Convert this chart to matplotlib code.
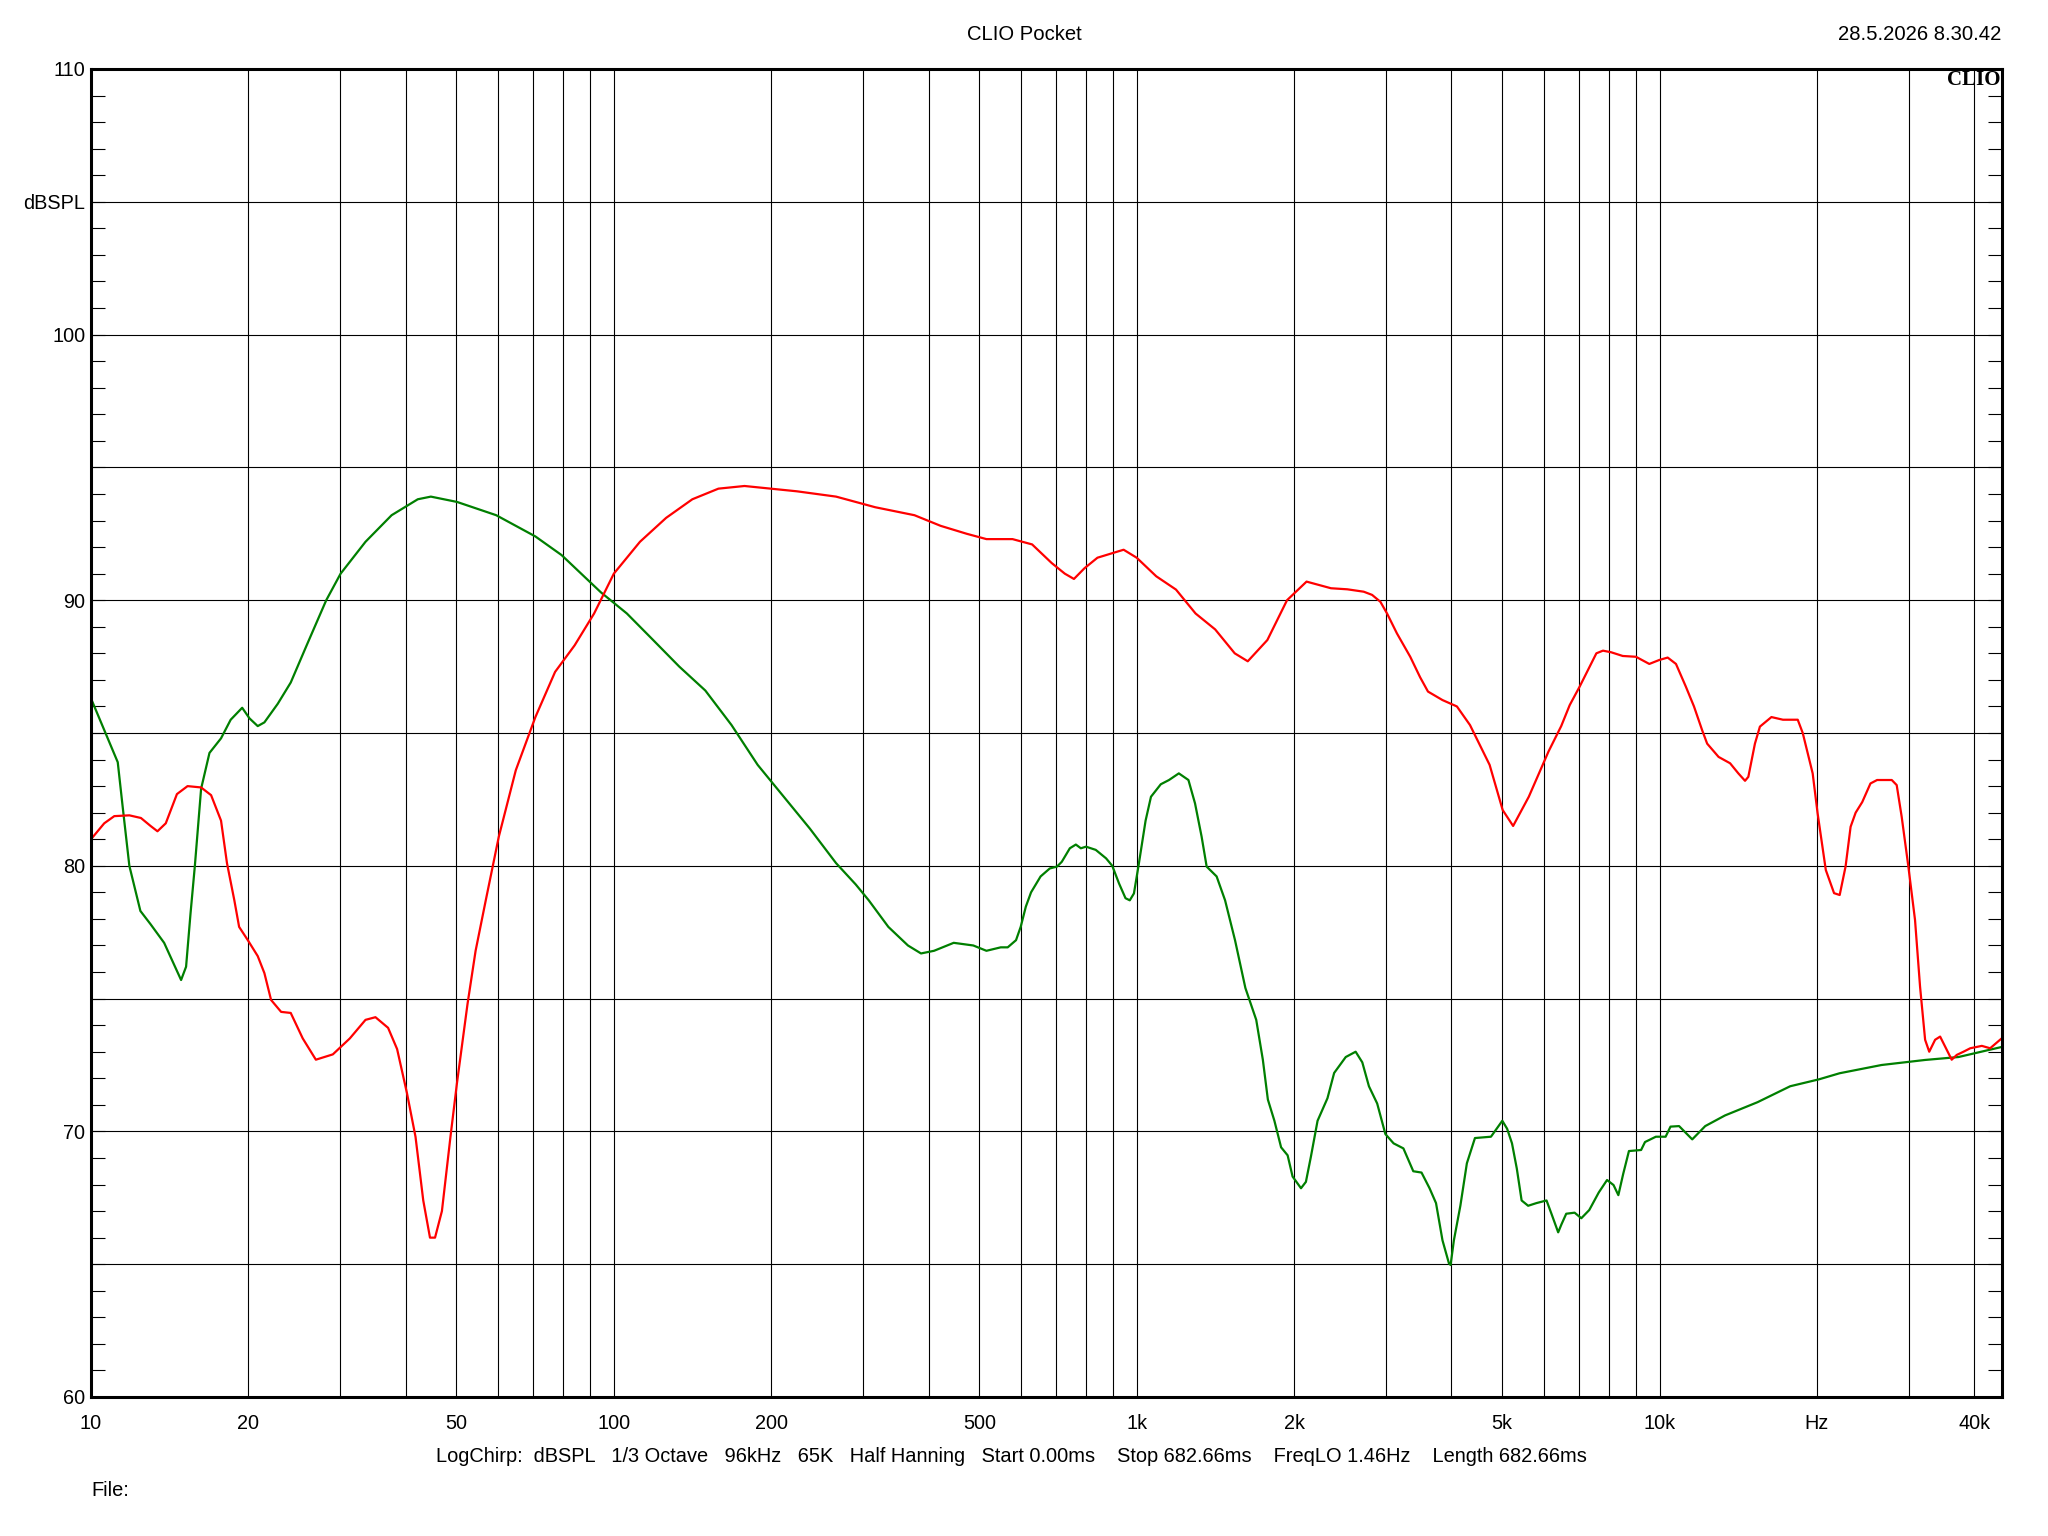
import numpy as np
import matplotlib
matplotlib.use('Agg')
import matplotlib.pyplot as plt
from matplotlib.ticker import FixedLocator, NullFormatter, NullLocator

plt.rcParams['font.family'] = ['Liberation Sans', 'DejaVu Sans']

# green curve
green_f = [10, 11.25, 11.5, 11.84, 12.43, 13.0, 13.8, 14.4, 14.87, 15.2,
           15.5, 15.8, 16.24, 16.85, 17.73, 18.5, 19.46, 20.1, 20.84, 21.46,
           22.76, 24.1, 25.85, 28.18, 30.02, 33.50, 37.58, 42.17, 44.67, 50.12,
           59.57, 70.79, 79.43, 86.60, 94.41, 105.9, 118.9, 133.4, 149.6, 167.9,
           188.4, 211.3, 237.1, 266.1, 290.1, 307.3, 335.0, 365.2, 386.8, 409.7,
           446.7, 487.0, 516.0, 549.5, 566.7, 587.8, 600, 613.7, 628, 655,
           682, 704, 719, 745, 765, 782, 800, 835, 874, 898,
           925, 952, 970, 988, 1010, 1040, 1065, 1112, 1153, 1204,
           1256, 1293, 1331, 1361, 1422, 1476, 1542, 1614, 1693, 1743,
           1782, 1834, 1889, 1944, 1987, 2062, 2107, 2154, 2218, 2317,
           2386, 2511, 2623, 2701, 2781, 2884, 2990, 3100, 3237, 3381,
           3506, 3632, 3737, 3845, 3956, 3985, 4043, 4160, 4281, 4436,
           4760, 5004, 5111, 5222, 5334, 5448, 5607, 5814, 6080, 6213,
           6400, 6493, 6631, 6880, 7086, 7339, 7652, 7937, 8167, 8342,
           8522, 8740, 9221, 9381, 9841, 10272, 10496, 10900, 11550, 12230,
           13340, 15400, 17780, 20180, 22110, 26590, 32210, 37300, 44930]
green_db = [86.3, 83.9, 82.2, 80.0, 78.3, 77.8, 77.1, 76.3, 75.7, 76.2,
            78.2, 80.0, 82.9, 84.25, 84.8, 85.5, 85.95, 85.55, 85.26, 85.4,
            86.1, 86.9, 88.3, 90.0, 91.0, 92.2, 93.2, 93.8, 93.9, 93.7,
            93.2, 92.4, 91.7, 91.0, 90.3, 89.5, 88.5, 87.5, 86.6, 85.3,
            83.8, 82.6, 81.4, 80.1, 79.3, 78.7, 77.7, 77.0, 76.7, 76.8,
            77.1, 77.0, 76.8, 76.93, 76.93, 77.2, 77.7, 78.46, 79.0, 79.6,
            79.9, 79.97, 80.15, 80.66, 80.8, 80.66, 80.72, 80.6, 80.28, 80.0,
            79.34, 78.78, 78.7, 78.96, 80.1, 81.7, 82.6, 83.07, 83.23, 83.48,
            83.23, 82.35, 81.1, 79.97, 79.6, 78.7, 77.2, 75.4, 74.2, 72.7,
            71.2, 70.4, 69.4, 69.1, 68.3, 67.86, 68.1, 69.05, 70.4, 71.25,
            72.2, 72.8, 73.0, 72.6, 71.7, 71.05, 69.9, 69.55, 69.36, 68.5,
            68.45, 67.86, 67.3, 65.9, 65.03, 64.97, 65.9, 67.2, 68.8, 69.75,
            69.8, 70.4, 70.1, 69.55, 68.6, 67.4, 67.2, 67.3, 67.4, 66.9,
            66.2, 66.5, 66.9, 66.94, 66.73, 67.04, 67.7, 68.17, 67.98, 67.6,
            68.4, 69.26, 69.3, 69.6, 69.8, 69.8, 70.18, 70.2, 69.7, 70.2,
            70.6, 71.1, 71.7, 71.96, 72.19, 72.5, 72.69, 72.8, 73.17]

# red curve
red_f = [10, 10.6, 11.08, 11.84, 12.46, 13.0, 13.4, 13.9, 14.6, 15.3,
         16.24, 16.97, 17.73, 18.2, 18.8, 19.2, 19.95, 20.84, 21.46, 22.1,
         23.1, 24.1, 25.41, 26.92, 29.01, 31.26, 33.5, 35.0, 37.0, 38.5,
         40.2, 41.75, 43.2, 44.5, 45.5, 46.9, 48.7, 50.1, 52.5, 54.4,
         56.89, 60.26, 64.94, 70.79, 77.20, 84.14, 91.68, 100, 112.2, 125.9,
         141.3, 158.5, 177.8, 199.5, 223.9, 266.1, 316.2, 375.8, 421.7, 473.2,
         516.0, 578.8, 631.0, 687.7, 728.6, 758.6, 794.3, 841.4, 944.1, 1000,
         1090, 1189, 1296, 1413, 1540, 1631, 1778, 1939, 2113, 2353,
         2529, 2718, 2820, 2925, 3012, 3146, 3336, 3484, 3607, 3845,
         4097, 4340, 4732, 5012, 5248, 5623, 6132, 6486, 6733, 7036,
         7353, 7572, 7795, 8081, 8504, 9014, 9560, 9992, 10366, 10752,
         11227, 11639, 12068, 12334, 12970, 13646, 14150, 14573, 14787, 15223,
         15560, 16370, 17220, 18380, 18790, 19630, 20060, 20800, 21570, 22110,
         22690, 23200, 23720, 24420, 25320, 26070, 27810, 28420, 29050, 29920,
         30810, 31500, 32210, 32800, 33660, 34410, 35430, 36210, 37030, 38140,
         39290, 41350, 42890, 44930]
red_db = [81.0, 81.6, 81.87, 81.9, 81.8, 81.5, 81.3, 81.6, 82.7, 83.0,
          82.95, 82.66, 81.7, 80.1, 78.7, 77.7, 77.2, 76.6, 75.96, 74.95,
          74.5, 74.46, 73.5, 72.7, 72.9, 73.5, 74.2, 74.3, 73.9, 73.1,
          71.45, 69.8, 67.4, 66.0, 66.0, 67.0, 69.8, 71.8, 74.8, 76.8,
          78.7, 81.1, 83.6, 85.6, 87.3, 88.3, 89.5, 91.0, 92.2, 93.1,
          93.8, 94.2, 94.3, 94.2, 94.1, 93.9, 93.5, 93.2, 92.8, 92.5,
          92.3, 92.3, 92.1, 91.4, 91.0, 90.8, 91.2, 91.6, 91.9, 91.6,
          90.9, 90.4, 89.5, 88.9, 88.0, 87.7, 88.5, 90.0, 90.7, 90.45,
          90.41, 90.32, 90.2, 89.94, 89.5, 88.75, 87.87, 87.1, 86.56, 86.24,
          86.0, 85.3, 83.8, 82.1, 81.5, 82.6, 84.3, 85.26, 86.05, 86.75,
          87.5, 88.0, 88.1, 88.04, 87.9, 87.87, 87.6, 87.75, 87.84, 87.6,
          86.75, 86.0, 85.1, 84.6, 84.1, 83.86, 83.48, 83.2, 83.35, 84.6,
          85.24, 85.6, 85.5, 85.5, 85.0, 83.48, 81.98, 79.84, 78.97, 78.9,
          79.97, 81.47, 82.0, 82.4, 83.1, 83.23, 83.23, 83.04, 81.85, 79.97,
          77.96, 75.45, 73.45, 73.0, 73.45, 73.57, 73.07, 72.7, 72.88, 73.0,
          73.13, 73.22, 73.13, 73.47]

x_ticks = [10, 20, 50, 100, 200, 500, 1000, 2000, 5000, 10000, 20000, 40000]
x_labels = ['10', '20', '50', '100', '200', '500', '1k', '2k', '5k', '10k', 'Hz', '40k']
y_labels = {110: '110', 105: 'dBSPL', 100: '100', 90: '90', 80: '80', 70: '70', 60: '60'}

fig = plt.figure(figsize=(20.48, 15.36), dpi=100)
ax = fig.add_axes([91 / 2048, 1 - 1397 / 1536, (2002 - 91) / 2048, (1397 - 69) / 1536])

ax.plot(green_f, green_db, color='#007f00', lw=1.6)
ax.plot(red_f, red_db, color='#ff0000', lw=1.6)

ax.set_xscale('log')
ax.set_xlim(10, 45190)
ax.set_ylim(60, 110)

# vertical grid on every 1-2-3..9 decade step
vgrid = [m * 10 ** e for e in range(1, 5) for m in range(1, 10) if 10 < m * 10 ** e < 45190]
for v in vgrid:
    ax.axvline(v, color='black', lw=0.8, zorder=0)
for h in range(65, 110, 5):
    ax.axhline(h, color='black', lw=0.8, zorder=0)

ax.xaxis.set_major_locator(FixedLocator(x_ticks))
ax.xaxis.set_minor_locator(NullLocator())
ax.xaxis.set_minor_formatter(NullFormatter())
ax.set_xticklabels(x_labels)
ax.tick_params(axis='x', length=0, pad=12.5, labelsize=14.3)

ax.yaxis.set_major_locator(FixedLocator(list(y_labels.keys())))
ax.set_yticklabels(list(y_labels.values()))
ax.yaxis.set_minor_locator(FixedLocator(np.arange(60, 111, 1)))
ax.tick_params(axis='y', which='both', direction='in', length=10, width=0.8,
               left=True, right=True, labelsize=14.3, pad=4)

for s in ax.spines.values():
    s.set_linewidth(2.2)

ax.text(0.999, 0.999, 'CLIO', transform=ax.transAxes, ha='right', va='top',
        fontsize=15, fontweight='bold', family=['Liberation Serif', 'DejaVu Serif'])

fig.text(1024 / 2048, 1 - 34 / 1536, 'CLIO Pocket', ha='center', va='center', fontsize=14.6)
fig.text(2001 / 2048, 1 - 34 / 1536, '28.5.2026 8.30.42', ha='right', va='center', fontsize=14.6)
fig.text(1011 / 2048, 1 - 1457 / 1536,
         'LogChirp:  dBSPL   1/3 Octave   96kHz   65K   Half Hanning   Start 0.00ms    '
         'Stop 682.66ms    FreqLO 1.46Hz    Length 682.66ms',
         ha='center', va='center', fontsize=14.4)
fig.text(91 / 2048, 1 - 1491 / 1536, 'File:', ha='left', va='center', fontsize=14.4)

fig.savefig('out.png', dpi=100)
